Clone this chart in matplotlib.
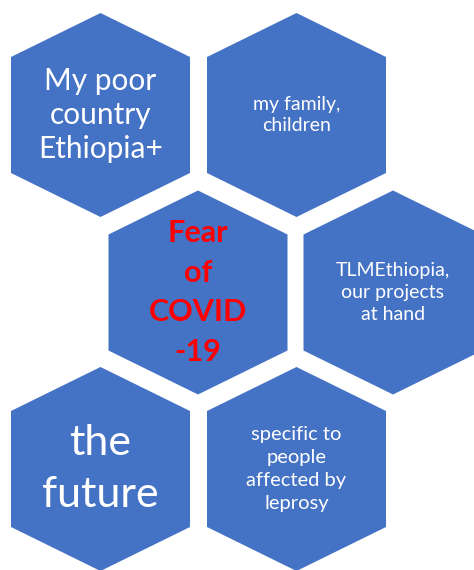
import matplotlib.pyplot as plt
from matplotlib.patches import Polygon

labels = [
    "My poor\ncountry\nEthiopia+",
    "my family,\nchildren",
    "Fear\nof\nCOVID\n-19",
    "TLMEthiopia,\nour projects\nat hand",
    "the\nfuture",
    "specific to\npeople\naffected by\nleprosy",
]
text_colors = ["white", "white", "#ff0000", "white", "white", "white"]
font_sizes = [21.5, 14, 22, 14, 31, 14.5]
weights = ["normal", "normal", "bold", "normal", "normal", "normal"]
line_gaps = [1.25, 1.32, 1.52, 1.36, 1.45, 1.42]

# hex centres in pixel coords (x, y down)
centers = [(100.5, 115), (296.5, 115), (198, 292.5), (393, 292.5), (100.5, 469), (296.5, 469)]
hw, hh, side = 89.5, 102, 58

plt.rcParams['font.family'] = ['Lato', 'DejaVu Sans']

fig = plt.figure(figsize=(4.74, 5.70), dpi=100)
ax = fig.add_axes([0, 0, 1, 1])
ax.set_xlim(0, 474)
ax.set_ylim(570, 0)
ax.axis('off')

for (cx, cy), lab, col, fs, w, ls in zip(centers, labels, text_colors, font_sizes, weights, line_gaps):
    pts = [(cx, cy - hh), (cx + hw, cy - side), (cx + hw, cy + side),
           (cx, cy + hh), (cx - hw, cy + side), (cx - hw, cy - side)]
    ax.add_patch(Polygon(pts, closed=True, facecolor="#4472c4", edgecolor="none"))
    ax.text(cx, cy, lab, color=col, fontsize=fs, fontweight=w, ha='center', va='center',
            linespacing=ls, multialignment='center')

fig.savefig("out.png", dpi=100)
